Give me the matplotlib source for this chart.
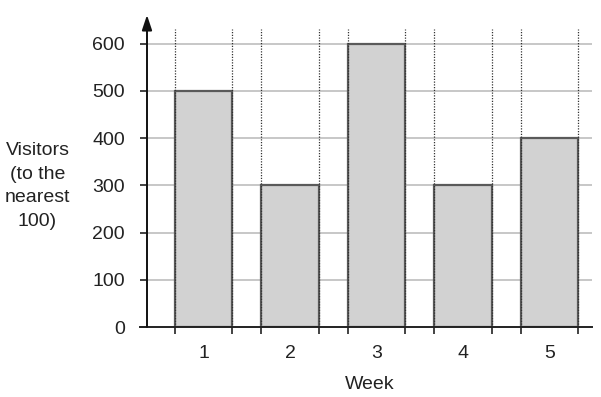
import matplotlib.pyplot as plt
import numpy as np

plt.rcParams['font.family'] = ['Liberation Sans', 'DejaVu Sans']

weeks = [1, 2, 3, 4, 5]
visitors = [500, 300, 600, 300, 400]
y_ticks = [0, 100, 200, 300, 400, 500, 600]

bar_w = 0.66
fig = plt.figure(figsize=(6.01, 3.97), dpi=100)
ax = fig.add_axes([147 / 601, 1 - 327 / 397, (592 - 147) / 601, (327 - 15) / 397])
ax.set_xlim(0.347, 5.491)
ax.set_ylim(0, 661)

# horizontal grid
for y in y_ticks[1:]:
    ax.plot([0.347, 5.491], [y, y], color='#bdbdbd', lw=1.2, zorder=1)

# bars
ax.bar(weeks, visitors, width=bar_w, color='#d2d2d2', edgecolor='#5a5a5a',
       linewidth=1.6, zorder=2)

# dotted lines at bar edges
edges = []
for w in weeks:
    edges += [w - bar_w / 2, w + bar_w / 2]
for e in edges:
    ax.plot([e, e], [0, 632], color='#333333', lw=0.9, ls=(0, (1, 1.2)), zorder=3)

for s in ax.spines.values():
    s.set_visible(False)

# axes lines
ax.plot([0.266, 5.491], [0, 0], color='#222222', lw=1.4, clip_on=False, zorder=4)
ax.annotate('', xy=(0, 1), xytext=(0, 0), xycoords='axes fraction',
            arrowprops=dict(arrowstyle='-|>,head_length=0.9,head_width=0.3',
                            color='#111111', lw=1.4, shrinkA=0, shrinkB=0),
            zorder=4)

ax.set_yticks(y_ticks)
ax.tick_params(axis='y', direction='out', length=5, width=1.2, pad=11,
               labelsize=14, color='#222222', labelcolor='#222222')
ax.set_xticks(weeks)
ax.set_xticks(edges, minor=True)
ax.tick_params(axis='x', which='major', length=0, pad=13, labelsize=14,
               labelcolor='#222222')
ax.tick_params(axis='x', which='minor', direction='out', length=5, width=1.2,
               color='#222222')

ax.set_xlabel('Week', fontsize=14, labelpad=10, color='#222222')
fig.text(37.5 / 601, 1 - 186 / 397, 'Visitors\n(to the\nnearest\n100)',
         ha='center', va='center', fontsize=14, linespacing=1.5, color='#222222')

fig.savefig('out.png', dpi=100)
